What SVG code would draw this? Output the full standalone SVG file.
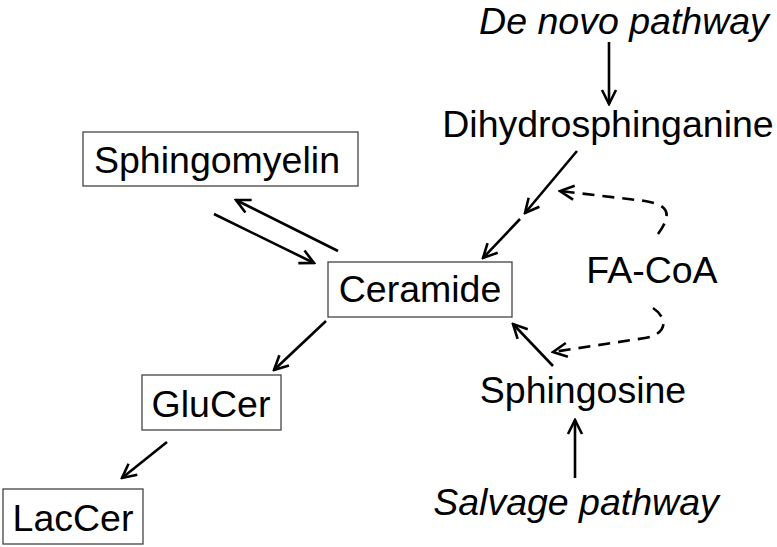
<svg xmlns="http://www.w3.org/2000/svg" width="777" height="547" viewBox="0 0 777 547">
<defs>
<marker id="ah" viewBox="0 0 20 20" refX="18" refY="10" markerWidth="20" markerHeight="20" markerUnits="userSpaceOnUse" orient="auto">
<polyline points="4,3 18,10 4,17" fill="none" stroke="#000" stroke-width="2.6"/>
</marker>
</defs>
<style>
.box{fill:#fff;stroke:#444;stroke-width:1.3}
.t{font-family:"Liberation Sans",Arial,sans-serif;font-size:37.5px;fill:#000;text-anchor:middle}
.it{font-style:italic}
.c{fill:none;stroke:#000;stroke-width:2.6;marker-end:url(#ah)}
.d{stroke-dasharray:12 8}
</style>
<rect width="777" height="547" fill="#fff"/>
<g id="sphingomyelin"><rect class="box" x="83" y="132" width="275" height="54"/><text class="t" x="217" y="173">Sphingomyelin</text></g>
<g id="ceramide"><rect class="box" x="328" y="262" width="184" height="55"/><text class="t" x="420" y="302">Ceramide</text></g>
<g id="glucer"><rect class="box" x="142" y="375" width="139" height="55"/><text class="t" x="211" y="417">GluCer</text></g>
<g id="laccer"><rect class="box" x="3" y="489" width="140" height="55"/><text class="t" x="73" y="531">LacCer</text></g>
<g id="denovo"><text class="t it" x="624" y="34">De novo pathway</text></g>
<g id="dihydrosphinganine"><text class="t" x="608" y="137">Dihydrosphinganine</text></g>
<g id="facoa"><text class="t" x="652" y="283">FA-CoA</text></g>
<g id="sphingosine"><text class="t" x="583" y="403">Sphingosine</text></g>
<g id="salvage"><text class="t it" x="576" y="515">Salvage pathway</text></g>
<g id="connectors">
<line class="c" x1="609" y1="42" x2="609" y2="104"/>
<line class="c" x1="577" y1="151" x2="525" y2="213"/>
<line class="c" x1="520" y1="219" x2="483" y2="258"/>
<line class="c" x1="214" y1="214" x2="314" y2="263"/>
<line class="c" x1="338" y1="251" x2="236" y2="200"/>
<line class="c" x1="326" y1="321" x2="274" y2="370"/>
<line class="c" x1="167" y1="442" x2="122" y2="478"/>
<line class="c" x1="553" y1="366" x2="513" y2="324"/>
<line class="c" x1="575" y1="478" x2="575" y2="420"/>
<path class="c d" d="M658,234 C672,215 670,205 645,201 L560,191"/>
<path class="c d" d="M653,308 C668,318 668,334 645,338 L553,352"/>
</g>
</svg>
